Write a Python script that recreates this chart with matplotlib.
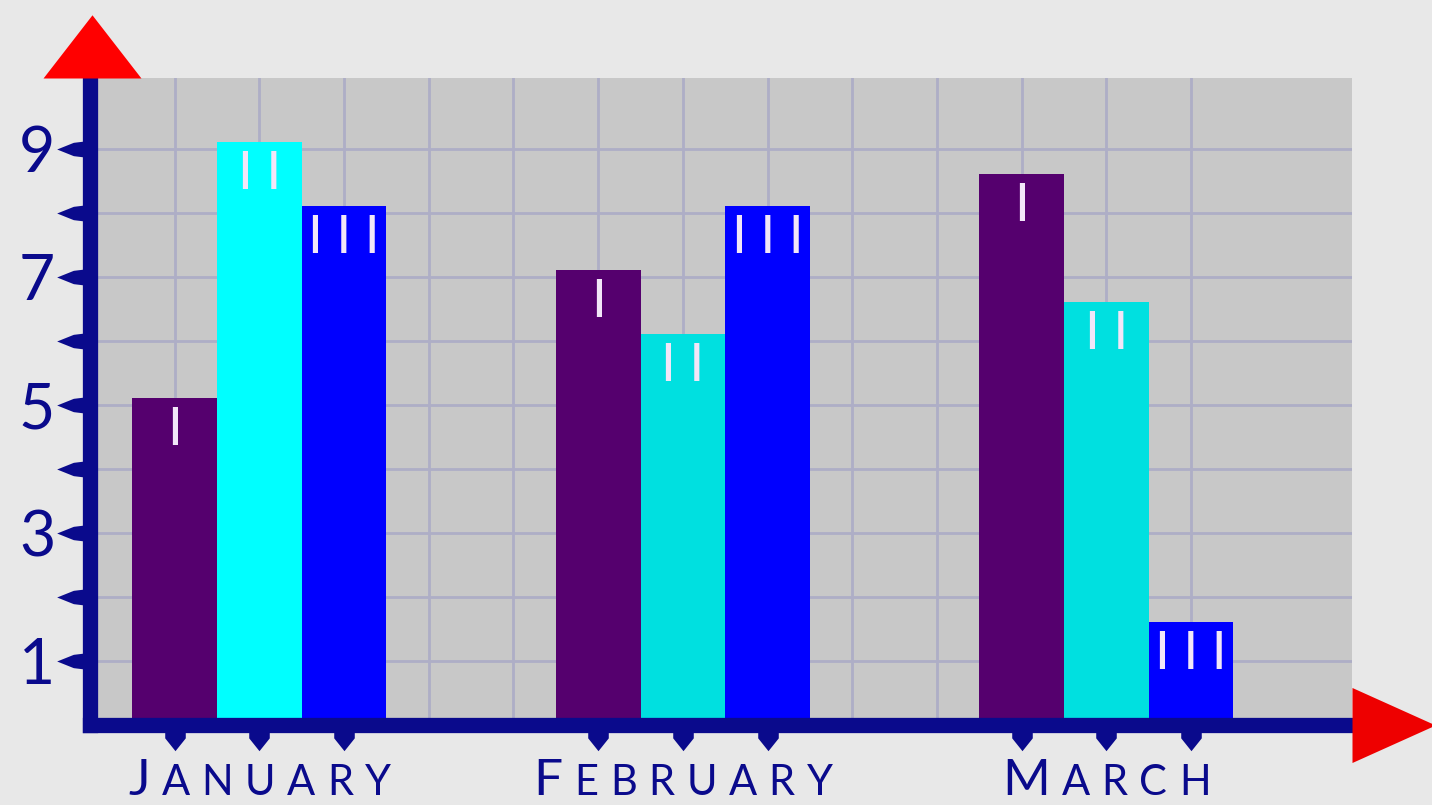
import numpy as np
import matplotlib
matplotlib.use('Agg')
import matplotlib.pyplot as plt
from matplotlib import transforms

# data
months = ['JANUARY', 'FEBRUARY', 'MARCH']
series = ['I', 'II', 'III']
vals_I = [5.1, 7.1, 8.6]
vals_II = [9.1, 6.1, 6.6]
vals_III = [8.1, 8.1, 1.6]
y_major = [1, 3, 5, 7, 9]
y_minor = [2, 4, 6, 8]

navy = '#0a0a8c'
purple = '#55006e'
cyan_colors = ['#00ffff', '#00e0e0', '#00e0e0']
blue = '#0000ff'
label_col = '#f2e6f8'

plt.rcParams['font.family'] = ['Lato', 'DejaVu Sans']

fig = plt.figure(figsize=(14.32, 8.05), dpi=100, facecolor='#e8e8e8')
ax = fig.add_axes([90 / 1432, 80.5 / 805, 1262 / 1432, 646 / 805])
ax.set_facecolor('#c8c8c8')

group_pos = np.arange(len(months)) * 5 + 1
x_I = group_pos - 1
x_II = group_pos
x_III = group_pos + 1

bars_I = ax.bar(x_I, vals_I, width=1.0, color=purple, zorder=2)
bars_II = ax.bar(x_II, vals_II, width=1.0, color=cyan_colors, zorder=2)
bars_III = ax.bar(x_III, vals_III, width=1.0, color=blue, zorder=2)

# roman numeral labels near the top of each bar
for bars, name in zip([bars_I, bars_II, bars_III], series):
    txt = ' '.join(name)
    for b in bars:
        ax.annotate(txt, (b.get_x() + b.get_width() / 2, b.get_height()),
                    xytext=(0, -23), textcoords='offset points',
                    ha='center', va='center', fontsize=38, color=label_col, zorder=3)

ax.set_xlim(-1.0, 13.9)
ax.set_ylim(0, 10.1)

# grid on every unit
ax.set_xticks(np.arange(0, 13), minor=True)
ax.set_yticks(y_minor, minor=True)
ax.set_yticks(y_major)
ax.set_yticklabels([str(v) for v in y_major])
ax.set_xticks(np.concatenate([x_I, x_II, x_III]))
ax.grid(True, which='both', color='#aeaec6', linewidth=2)
ax.set_axisbelow(True)

for s in ['top', 'right']:
    ax.spines[s].set_visible(False)
for s in ['left', 'bottom']:
    ax.spines[s].set_color(navy)
    ax.spines[s].set_linewidth(11)
    ax.spines[s].set_zorder(4)

ax.tick_params(axis='x', which='both', labelbottom=False, direction='in', length=37)
ax.tick_params(axis='x', which='minor', length=0)
ax.tick_params(axis='y', which='both', direction='in', length=46, pad=25,
               labelsize=45, labelcolor=navy)

# pointed tick marks
left_tick = [(-1, 0), (-0.5, -0.2), (0, -0.26), (0, 0.26), (-0.5, 0.2), (-1, 0)]
down_tick = [(-0.4, 0), (0.4, 0), (0.4, -0.5), (0, -1), (-0.4, -0.5), (-0.4, 0)]
for t in ax.yaxis.get_major_ticks() + ax.yaxis.get_minor_ticks():
    t.tick1line.set_marker(left_tick)
    t.tick1line.set_markersize(48)
    t.tick1line.set_color(navy)
    t.tick1line.set_markeredgewidth(0)
    t.tick1line.set_zorder(4)
    t.tick2line.set_visible(False)
for t in ax.xaxis.get_major_ticks():
    t.tick1line.set_marker(down_tick)
    t.tick1line.set_markersize(37)
    t.tick1line.set_color(navy)
    t.tick1line.set_markeredgewidth(0)
    t.tick2line.set_visible(False)

# red arrow heads
up_arrow = [(-1, 0), (1, 0), (0, 1.29), (-1, 0)]
right_arrow = [(0, -0.45), (1, 0), (0, 0.45), (0, -0.45)]
ax.plot([0.0015], [1.0], marker=up_arrow, markersize=91, color='#ff0000',
        transform=ax.transAxes, clip_on=False, zorder=6, markeredgewidth=0)
ax.plot([1.0], [0.0], marker=right_arrow, markersize=120, color='#ee0000',
        transform=ax.transAxes, clip_on=False, zorder=6, markeredgewidth=0)

# small caps month labels
renderer = fig.canvas.get_renderer()
trans = transforms.blended_transform_factory(ax.transData, ax.transAxes)
tracking = 8.5  # points between letters
for xc, name in zip(group_pos, months):
    parts = []
    for i, ch in enumerate(name):
        size = 37 if i == 0 else 30
        t = ax.annotate(ch, (xc, 0), xycoords=trans, xytext=(0, -51),
                        textcoords='offset points', ha='left', va='baseline',
                        fontsize=size, color=navy, annotation_clip=False)
        parts.append(t)
    widths = [p.get_window_extent(renderer).width * 72 / fig.dpi for p in parts]
    total = sum(widths) + tracking * (len(parts) - 1)
    pos = -total / 2
    for p, w in zip(parts, widths):
        p.xyann = (pos, -51)
        pos += w + tracking

fig.savefig('out.png', dpi=100, facecolor=fig.get_facecolor())
